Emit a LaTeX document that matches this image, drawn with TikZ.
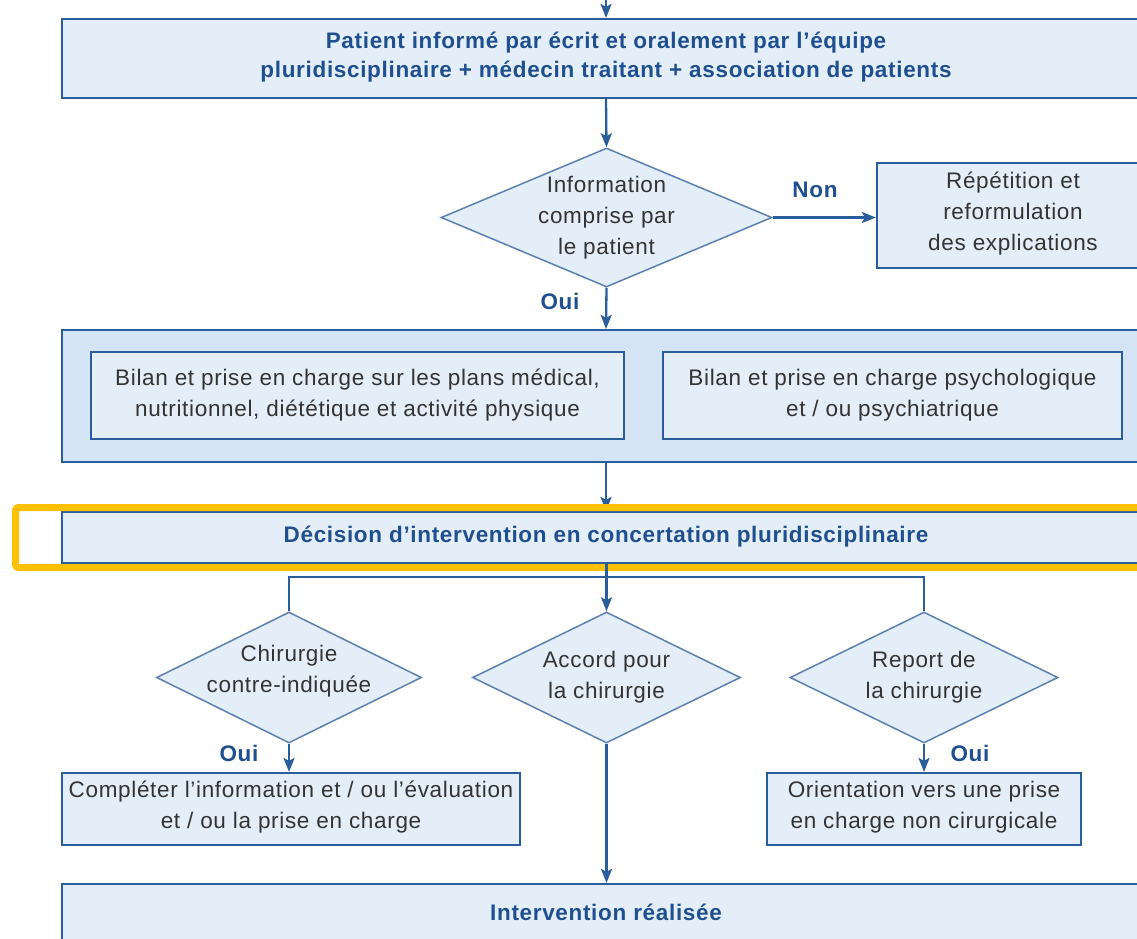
\documentclass[tikz,border=0pt]{standalone}
\usepackage{fontspec}
\setmainfont{Liberation Sans}[LetterSpace=3.0]
\usetikzlibrary{shapes.geometric,arrows.meta}
\definecolor{bline}{HTML}{2A5D9B}
\definecolor{dline}{HTML}{5C80B0}
\definecolor{bfill}{HTML}{E4EEF8}
\definecolor{bigfill}{HTML}{D5E4F4}
\definecolor{btext}{HTML}{1F4F8F}
\definecolor{ntext}{HTML}{333333}
\definecolor{hl}{HTML}{FFC000}
\tikzset{
  box/.style={draw=bline,line width=2.2pt,fill=bfill,rectangle,inner sep=0pt},
  dia/.style={draw=dline,line width=1.5pt,fill=bfill,diamond,inner sep=0pt},
  ntxt/.style={align=center,text=ntext,font=\fontsize{22.5}{31}\selectfont,inner sep=0pt},
  btxt/.style={align=center,text=btext,font=\fontsize{22.5}{29}\selectfont\bfseries,inner sep=0pt},
  conn/.style={draw=bline,line width=2.3pt},
  arr/.style={conn,-{Stealth[length=14pt,width=11pt,inset=3pt]}},
}
\begin{document}
\begin{tikzpicture}[x=1pt,y=-1pt]
\useasboundingbox (0,0) rectangle (1137,938);
\clip (0,0) rectangle (1137,938);
% top box
\node[box,minimum width=1088pt,minimum height=79pt] (top) at (606,58.5) {};
\node[btxt] (toptxt) at (606,57.5) {Patient informé par écrit et oralement par l’équipe\\pluridisciplinaire + médecin traitant + association de patients};
\coordinate (in) at (606,-20);
\draw[arr] (in) -- (top.north);
% diamond 1
\node[dia,minimum width=331pt,minimum height=139pt] (d1) at (606.5,217.5) {};
\node[ntxt] (d1t) at (606.5,217.5) {Information\\comprise par\\le patient};
\node[box,minimum width=272pt,minimum height=105pt] (rep) at (1013,215.5) {};
\node[ntxt] (rept) at (1013,214) {Répétition et\\reformulation\\des explications};
\draw[arr] (top.south) -- (d1.north);
\draw[arr] (d1.east) -- (d1.east -| rep.west);
\node[btxt] (non) at (815,190) {Non};
% big box
\node[box,fill=bigfill,minimum width=1088pt,minimum height=132pt] (big) at (606,396) {};
\node[box,minimum width=533pt,minimum height=87pt] (bl) at (357.5,395.5) {};
\node[ntxt] (blt) at (357.5,395.5) {Bilan et prise en charge sur les plans médical,\\nutritionnel, diététique et activité physique};
\node[box,minimum width=459pt,minimum height=87pt] (br) at (892.5,395.5) {};
\node[ntxt] (brt) at (892.5,395.5) {Bilan et prise en charge psychologique\\et / ou psychiatrique};
\draw[arr] (d1.south) -- (big.north);
\node[btxt] (oui1) at (560,301) {Oui};
% decision
\node[box,minimum width=1088pt,minimum height=51pt] (dec) at (606,537.5) {};
\node[btxt] (dect) at (606,537) {Décision d’intervention en concertation pluridisciplinaire};
\draw[arr] (big.south) -- (dec.north);
\draw[draw=hl,line width=7pt,rounded corners=3pt] (15.5,507.5) rectangle (1170,567.5);
% lower diamonds
\node[dia,minimum width=265pt,minimum height=131pt] (dl) at (289,677.5) {};
\node[ntxt] (dlt) at (289,671) {Chirurgie\\contre-indiquée};
\node[dia,minimum width=268pt,minimum height=131pt] (dc) at (606.5,677.5) {};
\node[ntxt] (dct) at (606.5,677.5) {Accord pour\\la chirurgie};
\node[dia,minimum width=268pt,minimum height=131pt] (dr) at (924,677.5) {};
\node[ntxt] (drt) at (924,677.5) {Report de\\la chirurgie};
\coordinate (j) at (606.5,577);
\draw[conn] (dec.south -| j) -- (j);
\draw[conn] (dl.north) |- (j) -| (dr.north);
\draw[arr] (j) -- (dc.north);
% outcome boxes
\node[box,minimum width=458pt,minimum height=72pt] (cl) at (291,809) {};
\node[ntxt] (clt) at (291,807.5) {Compléter l’information et / ou l’évaluation\\et / ou la prise en charge};
\node[box,minimum width=314pt,minimum height=72pt] (cr) at (924,809) {};
\node[ntxt] (crt) at (924,807.5) {Orientation vers une prise\\en charge non cirurgicale};
\draw[arr] (dl.south) -- (dl.south |- cl.north);
\draw[arr] (dr.south) -- (dr.south |- cr.north);
\node[btxt] (oui2) at (239,753) {Oui};
\node[btxt] (oui3) at (970,753) {Oui};
% bottom
\node[box,minimum width=1088pt,minimum height=60pt] (bot) at (606,914) {};
\node[btxt] (bott) at (606,912) {Intervention réalisée};
\draw[arr] (dc.south) -- (dc.south |- bot.north);
\end{tikzpicture}
\end{document}
